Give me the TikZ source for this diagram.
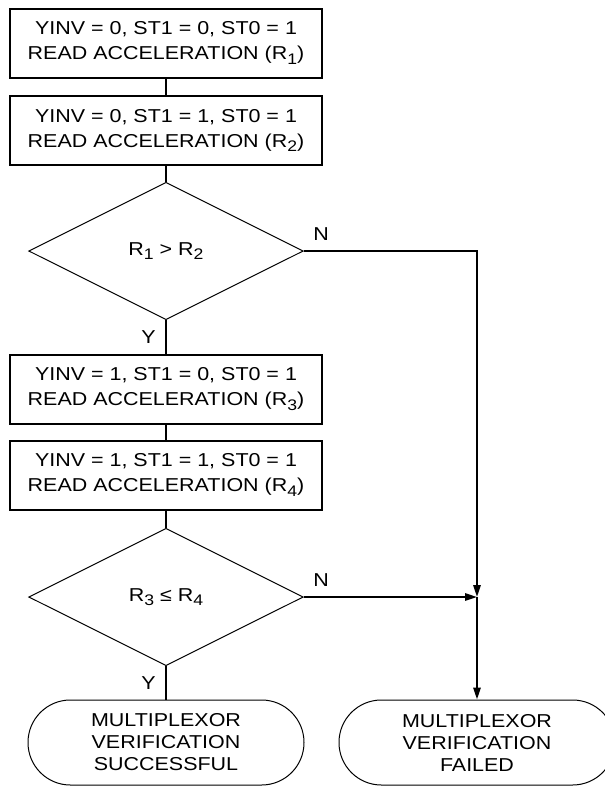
\documentclass[tikz,border=0pt]{standalone}
\usepackage{fontspec}
\setmainfont{Liberation Sans}[FakeStretch=1.15]
\usetikzlibrary{shapes.geometric, arrows.meta}
\newcommand{\rsub}[1]{\raisebox{-3.2pt}{\fontsize{11.5}{12}\selectfont #1}}

\begin{document}
\begin{tikzpicture}[x=0.75pt, y=-0.75pt,
        readbox/.style={draw, line width=1.5pt, minimum width=234pt, minimum height=51.75pt,
            inner sep=0pt, align=center, font=\fontsize{14}{18.75}\selectfont},
        test/.style={draw, diamond, line width=0.75pt, minimum width=206pt, minimum height=103pt,
            inner sep=0pt, font=\fontsize{14}{17}\selectfont},
        term/.style={draw, rectangle, rounded corners=31.8pt, line width=0.75pt, minimum width=207pt,
            minimum height=63.75pt, align=center, font=\fontsize{14}{16.5}\selectfont},
        yn/.style={inner sep=0pt, font=\fontsize{14}{17}\selectfont},
        flow/.style={line width=1.5pt},
        arr/.style={flow, -{Triangle[length=9pt, width=5.5pt]}}]
    \useasboundingbox (0,0) rectangle (605,786);
    % steps
    \node[readbox] (r1) at (166,43) {YINV = 0, ST1 = 0, ST0 = 1\\READ ACCELERATION (R\rsub{1})};
    \node[readbox] (r2) at (166,130.5) {YINV = 0, ST1 = 1, ST0 = 1\\READ ACCELERATION (R\rsub{2})};
    \node[test] (d1) at (166,251) {R\rsub{1} > R\rsub{2}};
    \node[readbox] (r3) at (166,389) {YINV = 1, ST1 = 0, ST0 = 1\\READ ACCELERATION (R\rsub{3})};
    \node[readbox] (r4) at (166,475) {YINV = 1, ST1 = 1, ST0 = 1\\READ ACCELERATION (R\rsub{4})};
    \node[test] (d2) at (166,597) {R\rsub{3} ≤ R\rsub{4}};
    \node[term] (ok) at (166,742.5) {MULTIPLEXOR\\VERIFICATION\\SUCCESSFUL};
    \node[term] (fail) at (477,742.5) {MULTIPLEXOR\\VERIFICATION\\FAILED};
    \coordinate (j) at (477,597);
    % branch labels
    \node[yn] (n1) at (321,234.5) {N};
    \node[yn] (y1) at (148.5,337.5) {Y};
    \node[yn] (n2) at (321,580.5) {N};
    \node[yn] (y2) at (148.5,683) {Y};
    % connectors
    \draw[flow] (r1) -- (r2);
    \draw[flow] (r2) -- (d1);
    \draw[flow] (d1) -- (r3);
    \draw[flow] (r3) -- (r4);
    \draw[flow] (r4) -- (d2);
    \draw[flow] (d2) -- (ok);
    \draw[arr] (d1.east) -| (j);
    \draw[arr] (d2.east) -- (j);
    \draw[arr] (j) -- (fail);
\end{tikzpicture}
\end{document}
